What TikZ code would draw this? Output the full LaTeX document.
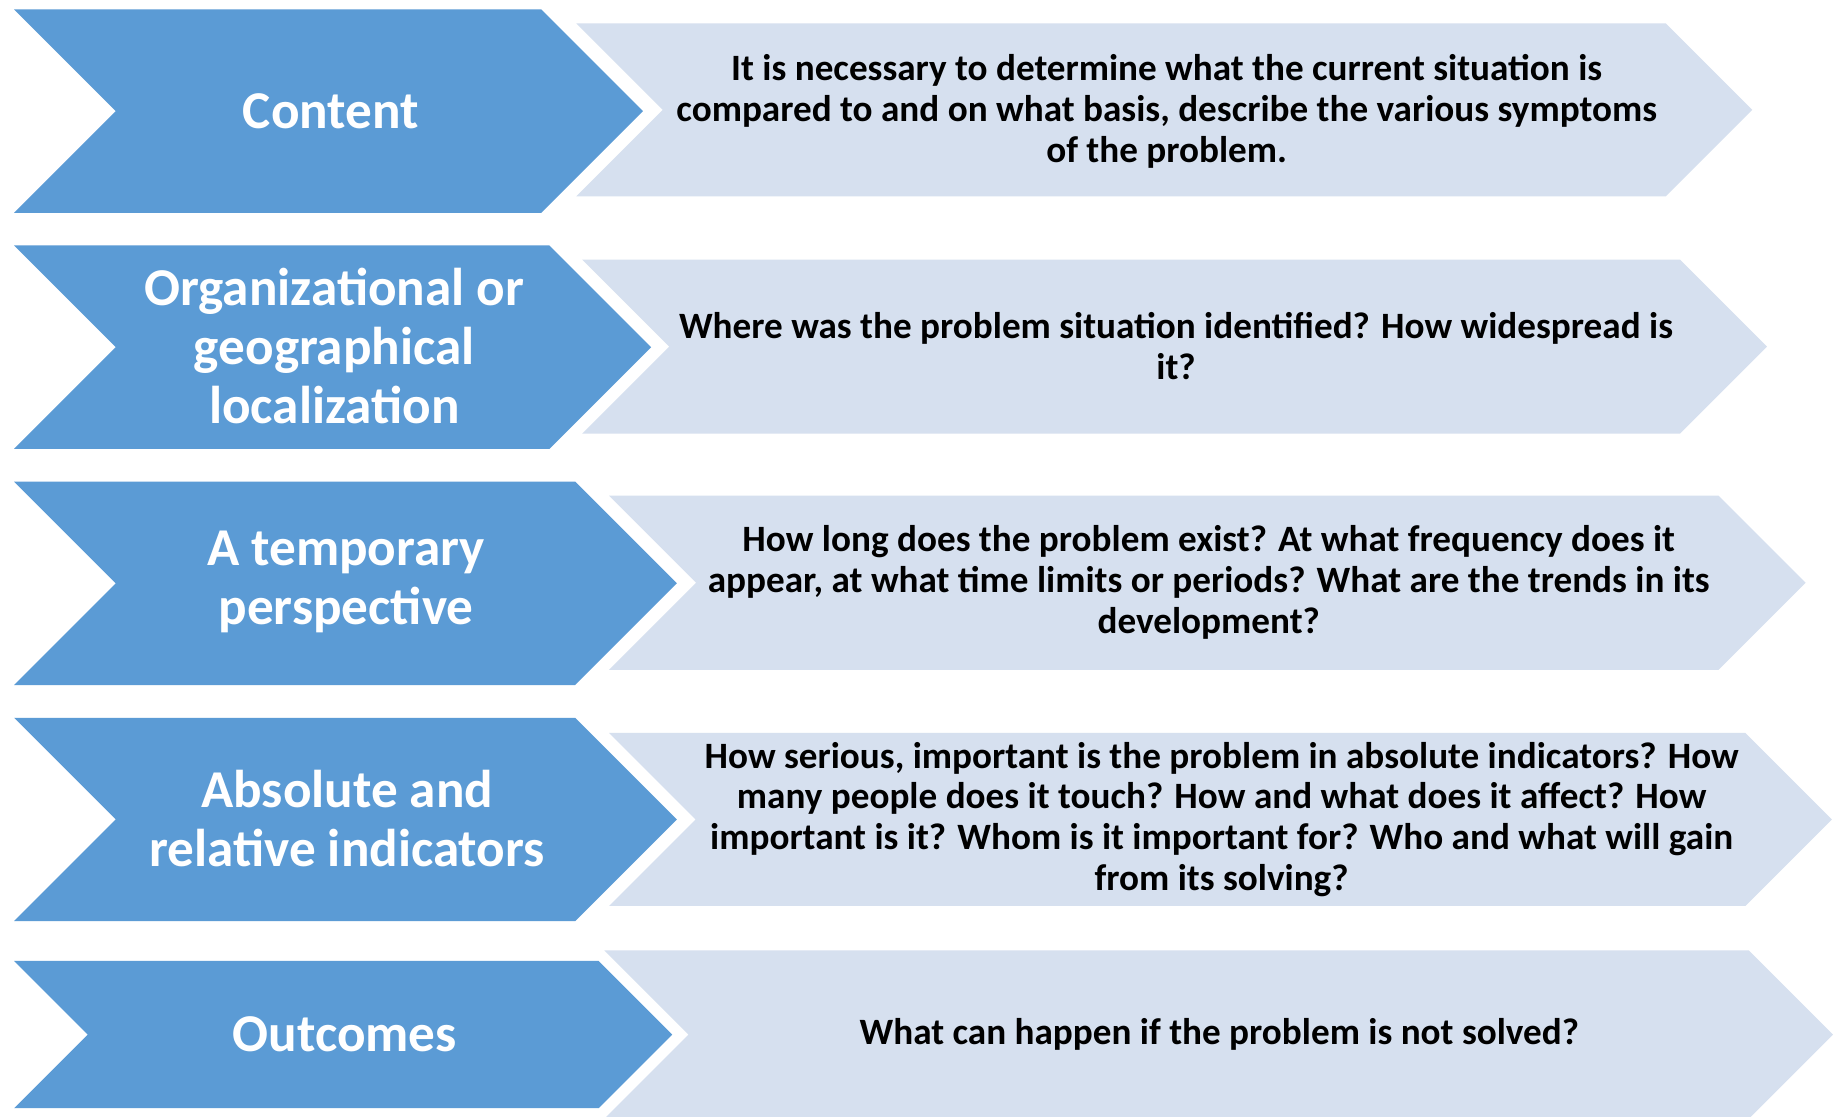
\documentclass[tikz,border=0pt]{standalone}
\usepackage{fontspec}
\setmainfont{Carlito}
\definecolor{darkb}{RGB}{91,155,213}
\definecolor{lightb}{RGB}{214,224,239}
\newcommand{\chevshape}[5]{%
  \pgfmathsetmacro\chd{(#3-#2)/2}\pgfmathsetmacro\chm{(#3+#2)/2}%
  \fill[#5] (#1,#2) -- (#4,#2) -- ({#4+\chd},\chm) -- (#4,#3) -- (#1,#3) -- ({#1+\chd},\chm) -- cycle;}
\tikzset{
  ttl/.style={text=white, font=\bfseries\fontsize{25.9}{28.5}\selectfont, align=center, inner sep=0pt},
  dsc/.style={text=black, font=\bfseries\fontsize{18.1}{19.9}\selectfont, align=center, inner sep=0pt}
}
\begin{document}
\begin{tikzpicture}[x=0.02cm, y=-0.02cm]
\useasboundingbox (0,0) rectangle (1568,955);
\fill[white] (0,0) rectangle (1568,955);
\clip (0,0) rectangle (1568,955);
% row 1
\chevshape{493}{20}{168}{1425}{lightb}
\chevshape{12}{8}{182}{463}{darkb}
% row 2
\chevshape{498}{222}{371}{1437}{lightb}
\chevshape{12}{210}{384}{470}{darkb}
% row 3
\chevshape{521}{424}{573}{1470}{lightb}
\chevshape{12}{412}{586}{492}{darkb}
% row 4
\chevshape{521}{627}{775}{1493}{lightb}
\chevshape{12}{614}{788}{492}{darkb}
% row 5
\chevshape{517}{813}{957}{1496}{lightb}
\chevshape{12}{822}{948}{512}{darkb}

\node[ttl] (t1) at (283,95) {Content};
\node[ttl] (t2) at (286,296) {Organizational or\\geographical\\localization};
\node[ttl] (t3) at (296,498) {A temporary\\perspective};
\node[ttl] (t4) at (297,700) {Absolute and\\relative indicators};
\node[ttl] (t5) at (295,885) {Outcomes};

\node[dsc] (d1) at (998,95) {It is necessary to determine what the current situation is\\compared to and on what basis, describe the various symptoms\\of the problem.};
\node[dsc] (d2) at (1006,296) {Where was the problem situation identified? How widespread is\\it?};
\node[dsc] (d3) at (1034,498) {How long does the problem exist? At what frequency does it\\appear, at what time limits or periods? What are the trends in its\\development?};
\node[dsc] (d4) at (1045,701) {How serious, important is the problem in absolute indicators? How\\many people does it touch? How and what does it affect? How\\important is it? Whom is it important for? Who and what will gain\\from its solving?};
\node[dsc] (d5) at (1043,885) {What can happen if the problem is not solved?};
\end{tikzpicture}
\end{document}
